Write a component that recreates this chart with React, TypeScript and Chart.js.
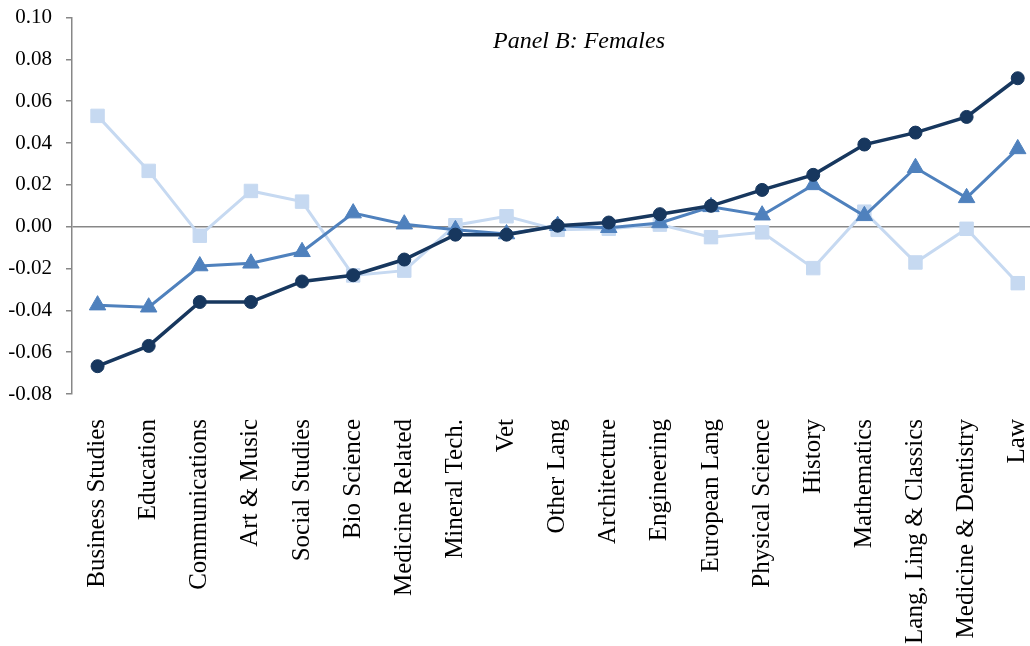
import { useEffect, useRef } from "react";
import { Chart, registerables } from "chart.js";

Chart.register(...registerables);

const categories = [
  "Business Studies",
  "Education",
  "Communications",
  "Art & Music",
  "Social Studies",
  "Bio Science",
  "Medicine Related",
  "Mineral Tech.",
  "Vet",
  "Other Lang",
  "Architecture",
  "Engineering",
  "European Lang",
  "Physical Science",
  "History",
  "Mathematics",
  "Lang, Ling & Classics",
  "Medicine & Dentistry",
  "Law",
];

const seriesCircle = [
  -0.0667, -0.057, -0.036, -0.036, -0.0262, -0.0232, -0.0157, -0.0038, -0.0038,
  0.0005, 0.002, 0.006, 0.01, 0.0176, 0.0248, 0.0393, 0.045, 0.0525, 0.071,
];

const seriesTriangle = [
  -0.0375, -0.0385, -0.0188, -0.0175, -0.012, 0.0065, 0.0012, -0.0015, -0.0035,
  0.0005, -0.0005, 0.0018, 0.0095, 0.0055, 0.02, 0.0052, 0.0282, 0.0138, 0.0372,
];

const seriesSquare = [
  0.053, 0.0267, -0.0043, 0.0171, 0.012, -0.0233, -0.021, 0.0007, 0.005,
  -0.0015, -0.001, 0.001, -0.005, -0.0027, -0.0198, 0.0072, -0.0171, -0.001, -0.027,
];

const yTicks = [-0.08, -0.06, -0.04, -0.02, 0.0, 0.02, 0.04, 0.06, 0.08, 0.1];

const titleText = "Panel B: Females";

const FONT = "'Liberation Serif', 'DejaVu Serif', serif";
const DARK = "#17375e";
const MID = "#4f81bd";
const LIGHT = "#c6d9f1";
const GREY = "#878787";

const titlePlugin = {
  id: "panelTitle",
  afterDraw(chart: any) {
    const { ctx, chartArea } = chart;
    ctx.save();
    ctx.font = `italic 24px ${FONT}`;
    ctx.fillStyle = "#000";
    ctx.textAlign = "center";
    ctx.textBaseline = "middle";
    const x = chartArea.left + 0.522 * (chartArea.right - chartArea.left);
    ctx.fillText(titleText, x, chartArea.top + 24);
    ctx.restore();
  },
};

export default function App() {
  const ref = useRef<HTMLCanvasElement>(null);

  useEffect(() => {
    document.body.style.margin = "0";
    document.body.style.overflow = "hidden";
    const chart = new Chart(ref.current as HTMLCanvasElement, {
      type: "line",
      data: {
        labels: categories,
        datasets: [
          {
            label: "Circle",
            data: seriesCircle,
            borderColor: DARK,
            backgroundColor: DARK,
            pointBackgroundColor: DARK,
            pointBorderColor: DARK,
            borderWidth: 3.5,
            pointStyle: "circle",
            pointRadius: 6.5,
            pointBorderWidth: 1,
            order: 1,
            tension: 0,
          },
          {
            label: "Triangle",
            data: seriesTriangle,
            borderColor: MID,
            backgroundColor: MID,
            pointBackgroundColor: MID,
            pointBorderColor: MID,
            borderWidth: 3,
            pointStyle: "triangle",
            pointRadius: 9.5,
            pointBorderWidth: 1,
            order: 2,
            tension: 0,
          },
          {
            label: "Square",
            data: seriesSquare,
            borderColor: LIGHT,
            backgroundColor: LIGHT,
            pointBackgroundColor: LIGHT,
            pointBorderColor: LIGHT,
            borderWidth: 3,
            pointStyle: "rect",
            pointRadius: 9.5,
            pointBorderWidth: 1,
            order: 3,
            tension: 0,
          },
        ],
      },
      options: {
        responsive: false,
        animation: false,
        devicePixelRatio: 1,
        layout: { padding: { top: 7, left: 0, right: 0, bottom: 0 } },
        plugins: {
          legend: { display: false },
          tooltip: { enabled: false },
          title: { display: false },
        },
        scales: {
          x: {
            type: "category",
            offset: true,
            grid: { display: false },
            border: { display: false },
            ticks: {
              minRotation: 90,
              maxRotation: 90,
              autoSkip: false,
              color: "#000",
              padding: 17,
              font: { family: FONT, size: 25 },
            },
            afterFit(scale: any) {
              scale.height = 252;
            },
          },
          y: {
            type: "linear",
            min: -0.08,
            max: 0.1,
            afterBuildTicks(scale: any) {
              scale.ticks = yTicks.map((v) => ({ value: v }));
            },
            afterFit(scale: any) {
              scale.width = 72;
            },
            grid: {
              color: (ctx: any) =>
                ctx.tick && Math.abs(ctx.tick.value) < 1e-9 ? GREY : "rgba(0,0,0,0)",
              lineWidth: 1.5,
              tickColor: GREY,
              tickLength: 6,
              drawTicks: true,
            },
            border: { display: true, color: GREY, width: 1.5 },
            ticks: {
              color: "#000",
              padding: 14,
              font: { family: FONT, size: 21 },
              callback: (v: any) => Number(v).toFixed(2),
            },
          },
        },
      },
      plugins: [titlePlugin],
    });
    return () => chart.destroy();
  }, []);

  return (
    <div
      style={{
        position: "absolute",
        left: 0,
        top: 0,
        width: 1030,
        height: 646,
        overflow: "hidden",
      }}
    >
      <canvas
        ref={ref}
        width={1065}
        height={655}
        style={{
          display: "block",
          position: "absolute",
          left: 0,
          top: -9,
          width: 1065,
          height: 655,
        }}
      />
    </div>
  );
}
